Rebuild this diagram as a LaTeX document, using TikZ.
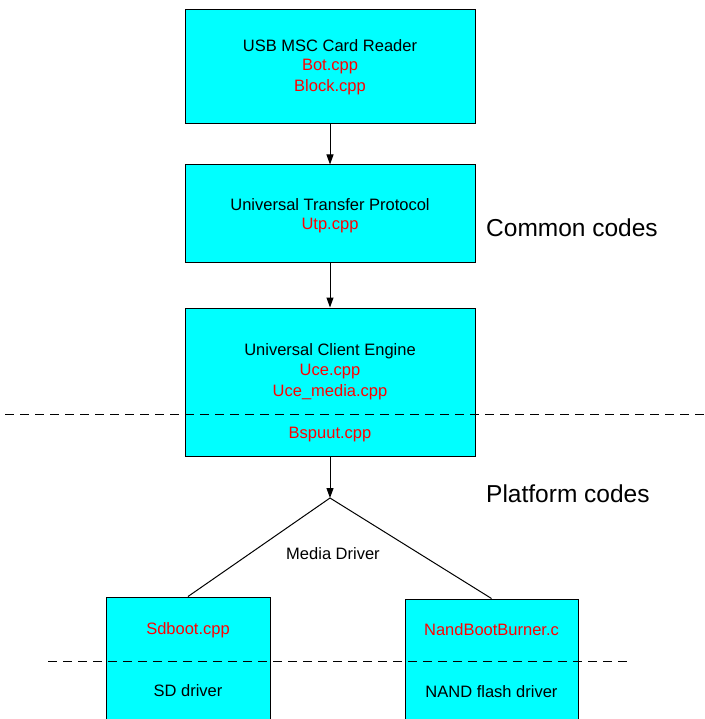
\documentclass[tikz,border=0pt]{standalone}
\usepackage{fontspec}
\setmainfont{Liberation Sans}
\usetikzlibrary{arrows.meta}
\definecolor{boxcyan}{RGB}{0,255,255}
\definecolor{codered}{RGB}{255,0,0}
\begin{document}
\begin{tikzpicture}[x=1pt,y=-1pt,
  box/.style={draw=black,line width=1pt,fill=boxcyan,rectangle,inner sep=0pt},
  lbl/.style={font=\fontsize{16.5}{19}\selectfont,text=black,inner sep=0pt,anchor=center},
  src/.style={font=\fontsize{16.5}{19}\selectfont,text=codered,inner sep=0pt,anchor=center},
  big/.style={font=\fontsize{24.5}{28}\selectfont,text=black,inner sep=0pt,anchor=west},
  flow/.style={line width=1pt,-{Triangle[length=10pt,width=7pt]}},
  link/.style={line width=1pt},
  sep/.style={line width=1pt,dash pattern=on 9pt off 6pt}]
\useasboundingbox (0,0) rectangle (704,719);
\clip (0,0) rectangle (704,719);
\fill[white] (0,0) rectangle (704,719);
% boxes
\node[box,minimum width=290pt,minimum height=114pt] (b1) at (330,67) {};
\node[box,minimum width=290pt,minimum height=97pt] (b2) at (330,213.5) {};
\node[box,minimum width=290pt,minimum height=148pt] (b3) at (330,382) {};
\node[box,minimum width=164pt,minimum height=140pt] (b4) at (188,667) {};
\node[box,minimum width=173pt,minimum height=140pt] (b5) at (491.5,669) {};
% texts
\node[lbl] (t1) at (330,46) {USB MSC Card Reader};
\node[src] (t1a) at (330,67) {Bot.cpp};
\node[src] (t1b) at (330,87) {Block.cpp};
\node[lbl] (t2) at (330,205) {Universal Transfer Protocol};
\node[src] (t2a) at (330,226) {Utp.cpp};
\node[lbl] (t3) at (330,351) {Universal Client Engine};
\node[src] (t3a) at (330,372) {Uce.cpp};
\node[src] (t3b) at (330,392) {Uce\_media.cpp};
\node[src] (t3c) at (330,435) {Bspuut.cpp};
\node[src] (t4a) at (188,630) {Sdboot.cpp};
\node[lbl] (t4b) at (188,691) {SD driver};
\node[src] (t5a) at (491.5,630) {NandBootBurner.c};
\node[lbl] (t5b) at (491.5,692) {NAND flash driver};
\node[lbl] (md) at (333,554) {Media Driver};
\node[big] (cc) at (486,228) {Common codes};
\node[big] (pc) at (486,494) {Platform codes};
% connectors
\coordinate (apex) at (330,498);
\draw[flow] (b1.south) -- (b2.north);
\draw[flow] (b2.south) -- (b3.north);
\draw[flow] (b3.south) -- (apex);
\draw[link] (apex) -- (b4.north);
\draw[link] (apex) -- (b5.north);
% separators
\coordinate (s1a) at (5,414);
\coordinate (s1b) at (704,414);
\coordinate (s2a) at (48,661);
\coordinate (s2b) at (630,661);
\draw[sep] (s1a) -- (s1b);
\draw[sep] (s2a) -- (s2b);
\end{tikzpicture}
\end{document}
